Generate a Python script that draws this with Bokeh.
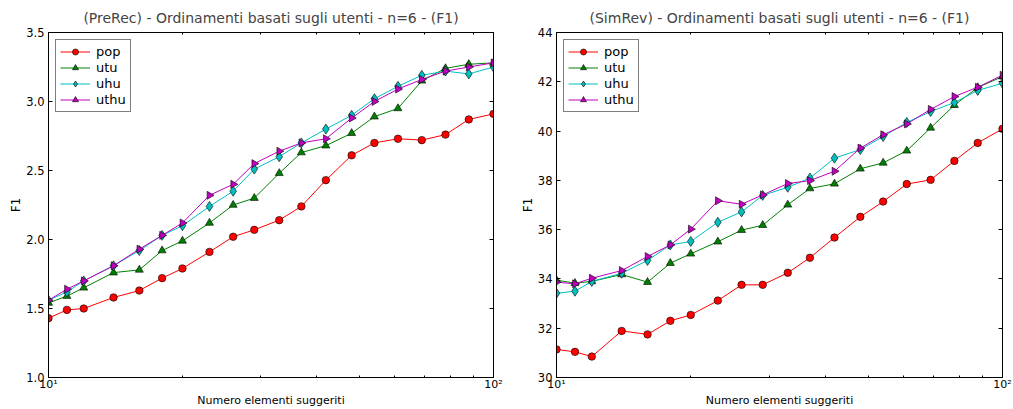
import math
from bokeh.plotting import figure
from bokeh.layouts import row
from bokeh.models import (FixedTicker, LinearAxis, LogAxis, Legend, LegendItem,
                          Range1d, PrintfTickFormatter, CustomJSTickFormatter)
from bokeh.embed import file_html
from bokeh.resources import INLINE

# ---------------- data ----------------
x_vals = [10, 11, 12, 14, 16, 18, 20, 23, 26, 29, 33, 37, 42, 48, 54, 61, 69, 78, 88, 100]

series_names = ["pop", "utu", "uhu", "uthu"]

prerec_pop = [1.43, 1.49, 1.50, 1.58, 1.63, 1.72, 1.79, 1.91, 2.02, 2.07, 2.14, 2.24, 2.43, 2.61, 2.70, 2.73, 2.72, 2.76, 2.87, 2.91]
prerec_utu = [1.54, 1.59, 1.65, 1.76, 1.78, 1.92, 1.99, 2.12, 2.25, 2.30, 2.48, 2.63, 2.68, 2.77, 2.89, 2.95, 3.15, 3.24, 3.27, 3.28]
prerec_uhu = [1.56, 1.62, 1.70, 1.81, 1.92, 2.03, 2.10, 2.24, 2.35, 2.51, 2.60, 2.70, 2.80, 2.90, 3.02, 3.11, 3.19, 3.22, 3.20, 3.25]
prerec_uthu = [1.56, 1.64, 1.70, 1.81, 1.93, 2.03, 2.12, 2.32, 2.40, 2.55, 2.64, 2.70, 2.73, 2.88, 3.00, 3.09, 3.16, 3.22, 3.25, 3.28]

simrev_pop = [31.14, 31.04, 30.85, 31.89, 31.75, 32.30, 32.54, 33.12, 33.76, 33.76, 34.25, 34.86, 35.68, 36.52, 37.14, 37.85, 38.02, 38.79, 39.52, 40.09]
simrev_utu = [33.95, 33.83, 33.90, 34.18, 33.87, 34.64, 35.02, 35.51, 35.98, 36.18, 37.01, 37.67, 37.86, 38.47, 38.71, 39.20, 40.13, 41.05, 41.77, 42.21]
simrev_uhu = [33.42, 33.50, 33.90, 34.23, 34.75, 35.38, 35.52, 36.30, 36.72, 37.39, 37.72, 38.09, 38.90, 39.25, 39.78, 40.35, 40.79, 41.16, 41.65, 41.94]
simrev_uthu = [33.87, 33.80, 34.03, 34.34, 34.91, 35.38, 36.02, 37.17, 37.03, 37.41, 37.87, 37.99, 38.37, 39.31, 39.85, 40.29, 40.88, 41.40, 41.78, 42.27]

x_major_ticks = [10, 100]
x_minor_ticks = [20, 30, 40, 50, 60, 70, 80, 90]
x_tick_labels = {10: "10\u00b9", 100: "10\u00b2"}

prerec_yticks = [1.0, 1.5, 2.0, 2.5, 3.0, 3.5]
simrev_yticks = [30, 32, 34, 36, 38, 40, 42, 44]

titles = ["(PreRec) - Ordinamenti basati sugli utenti - n=6 - (F1)",
          "(SimRev) - Ordinamenti basati sugli utenti - n=6 - (F1)"]
x_label = "Numero elementi suggeriti"
y_label = "F1"

# ---------------- styles ----------------
FONT = "DejaVu Sans"
colors = ["#ff0000", "#008000", "#00bfbf", "#bf00bf"]
markers = ["circle", "triangle", "diamond", "triangle"]
angles = [0, 0, 0, -math.pi / 2]
sizes = [7.5, 8, 10, 8]


def style_axis(ax, labels=True, fs="11.5px"):
    ax.axis_line_color = "black"
    ax.major_tick_line_color = "black"
    ax.minor_tick_line_color = "black"
    ax.major_tick_in = 4
    ax.major_tick_out = 0
    ax.minor_tick_in = 2
    ax.minor_tick_out = 0
    ax.major_label_text_font = FONT
    ax.major_label_text_color = "black"
    ax.axis_label_text_font = FONT
    ax.axis_label_text_font_style = "normal"
    ax.axis_label_text_color = "black"
    if labels:
        ax.major_label_text_font_size = fs
        ax.axis_label_text_font_size = fs
    else:
        ax.formatter = CustomJSTickFormatter(code="return ''")
        ax.major_label_text_font_size = "1px"
        ax.major_label_standoff = 0


def make_plot(title, ys, yticks, yfmt, width, bl, br):
    p = figure(width=width, height=409, x_axis_type="log",
               x_range=Range1d(10, 100), y_range=Range1d(yticks[0], yticks[-1]),
               output_backend="svg", toolbar_location=None,
               min_border_left=bl, min_border_right=br,
               min_border_top=32, min_border_bottom=32)
    p.title.text = title
    p.title.text_font = FONT
    p.title.text_font_size = "14px"
    p.title.text_font_style = "normal"
    p.title.align = "center"
    p.title.standoff = 13
    p.outline_line_color = "black"
    p.outline_line_width = 1
    p.outline_line_alpha = 1
    p.xgrid.visible = False
    p.ygrid.visible = False
    p.background_fill_color = "white"
    p.border_fill_color = "white"

    xt = FixedTicker(ticks=x_major_ticks, minor_ticks=x_minor_ticks)
    yt = FixedTicker(ticks=yticks, minor_ticks=[])

    xa = p.xaxis[0]
    xa.ticker = xt
    xa.major_label_overrides = x_tick_labels
    xa.axis_label = x_label
    style_axis(xa, fs="11px")
    xa.major_label_standoff = 0
    xa.axis_label_standoff = 0

    ya = p.yaxis[0]
    ya.ticker = yt
    ya.formatter = PrintfTickFormatter(format=yfmt)
    ya.axis_label = y_label
    style_axis(ya)
    ya.major_label_standoff = 4
    ya.axis_label_standoff = 0

    top = LogAxis(ticker=xt)
    style_axis(top, labels=False)
    p.add_layout(top, "above")
    right = LinearAxis(ticker=yt)
    style_axis(right, labels=False)
    p.add_layout(right, "right")

    items = []
    for name, yv, c, m, a, s in zip(series_names, ys, colors, markers, angles, sizes):
        lr = p.line(x_vals, yv, line_color=c, line_width=1)
        sr = p.scatter(x_vals, yv, marker=m, angle=a, size=s, fill_color=c,
                       line_color="black", line_width=0.6)
        items.append(LegendItem(label=name, renderers=[lr, sr]))

    leg = Legend(items=items, location="top_left")
    leg.margin = 7
    leg.padding = 4
    leg.spacing = 1
    leg.glyph_width = 30
    leg.glyph_height = 15
    leg.label_height = 15
    leg.label_standoff = 6
    leg.label_text_font = FONT
    leg.label_text_font_size = "13px"
    leg.label_text_color = "black"
    leg.border_line_color = "black"
    leg.border_line_width = 1
    leg.background_fill_color = "white"
    leg.background_fill_alpha = 1
    p.add_layout(leg)
    return p


p1 = make_plot(titles[0], [prerec_pop, prerec_utu, prerec_uhu, prerec_uthu],
               prerec_yticks, "%.1f", 505, 48, 12)
p2 = make_plot(titles[1], [simrev_pop, simrev_utu, simrev_uhu, simrev_uthu],
               simrev_yticks, "%d", 508, 51, 11)

layout = row(p1, p2)
open("out.html", "w").write(file_html(layout, INLINE))
